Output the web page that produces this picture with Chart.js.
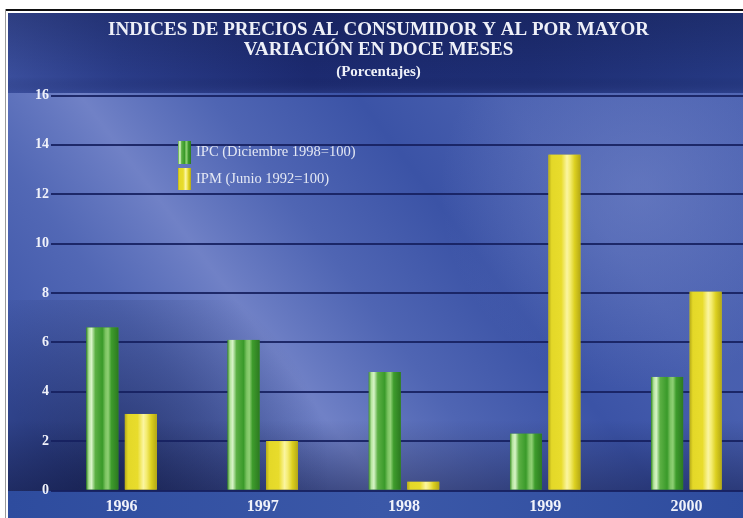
<!DOCTYPE html>
<html lang="es">
<head>
<meta charset="utf-8">
<title>Índices de precios al consumidor y al por mayor</title>
<script src="https://cdn.jsdelivr.net/npm/chart.js@4.4.0/dist/chart.umd.min.js"></script>
<style>
  html, body { margin: 0; padding: 0; background: #fff; overflow: hidden; }
  /* el lienzo es un poco más ancho que la ventana: la última categoría queda cortada como en el original */
  #contenedor { width: 743px; height: 518px; overflow: hidden; }
</style>
</head>
<body>
<div id="contenedor"><canvas id="grafico" width="757" height="518"></canvas></div>
<script>
// Datos (variación en doce meses, %)
const anios = ['1996', '1997', '1998', '1999', '2000'];
const valoresIPC = [6.6, 6.1, 4.8, 2.3, 4.6];
const valoresIPM = [3.1, 2.0, 0.35, 13.6, 8.05];
const ticksY = [0, 2, 4, 6, 8, 10, 12, 14, 16];

const etiquetaIPC = 'IPC (Diciembre 1998=100)';
const etiquetaIPM = 'IPM (Junio 1992=100)';

// Colores de las barras (degradado horizontal, efecto cilindro)
const paradasVerde = [
    [0, '#3f8f2c'], [0.08, '#b4e49c'], [0.16, '#d8f4c8'], [0.28, '#5cb044'],
    [0.5, '#3a9a2a'], [0.6, '#7cc462'], [0.68, '#8fd074'], [0.78, '#3e9c2c'], [1, '#2c7a20']
];
const paradasAmarillo = [
    [0, '#b8ac18'], [0.1, '#e4d828'], [0.4, '#e8dc2c'], [0.58, '#fbf5a0'],
    [0.68, '#f4ec70'], [0.82, '#dcd020'], [1, '#b4a814']
];

// Fondo azul con franja clara y banda del título
const pluginFondo = {
    id: 'fondo',
    beforeDraw(chart) {
        const ctx = chart.ctx;
        const w = chart.width, h = chart.height;
        ctx.save();
        ctx.fillStyle = '#ffffff';
        ctx.fillRect(0, 0, w, h);

        // marco del recorte
        ctx.fillStyle = '#111111';
        ctx.fillRect(5, 9, w - 5, 2);
        ctx.fillStyle = '#9a9a9a';
        ctx.fillRect(5, 9, 1, h - 9);

        // base azul
        ctx.fillStyle = '#3b53a6';
        ctx.fillRect(8, 13, w - 8, h - 13);

        // franja diagonal clara
        let g = ctx.createLinearGradient(60, 470, 520, 120);
        g.addColorStop(0, 'rgba(150,165,225,0)');
        g.addColorStop(0.25, 'rgba(150,165,225,0.25)');
        g.addColorStop(0.42, 'rgba(165,175,230,0.5)');
        g.addColorStop(0.6, 'rgba(150,165,225,0.22)');
        g.addColorStop(0.8, 'rgba(150,165,225,0)');
        g.addColorStop(1, 'rgba(150,165,225,0.15)');
        ctx.fillStyle = g;
        ctx.fillRect(8, 92, w - 8, 400);

        // zona clara a la derecha arriba
        g = ctx.createRadialGradient(640, 190, 10, 640, 190, 200);
        g.addColorStop(0, 'rgba(140,155,215,0.35)');
        g.addColorStop(1, 'rgba(140,155,215,0)');
        ctx.fillStyle = g;
        ctx.fillRect(8, 92, w - 8, 400);

        // sombra inferior
        g = ctx.createLinearGradient(0, 420, 0, 491);
        g.addColorStop(0, 'rgba(15,20,60,0)');
        g.addColorStop(1, 'rgba(15,20,60,0.45)');
        ctx.fillStyle = g;
        ctx.fillRect(8, 420, w - 8, 71);
        g = ctx.createRadialGradient(110, 480, 10, 110, 480, 220);
        g.addColorStop(0, 'rgba(10,15,50,0.5)');
        g.addColorStop(1, 'rgba(10,15,50,0)');
        ctx.fillStyle = g;
        ctx.fillRect(8, 300, 400, 191);

        // banda del título
        g = ctx.createLinearGradient(8, 0, w, 0);
        g.addColorStop(0, '#3a4e9c');
        g.addColorStop(0.15, '#2a3c88');
        g.addColorStop(0.4, '#1c2a70');
        g.addColorStop(0.7, '#1e2e74');
        g.addColorStop(1, '#263a84');
        ctx.fillStyle = g;
        ctx.fillRect(8, 13, w - 8, 80);
        g = ctx.createLinearGradient(0, 13, 0, 93);
        g.addColorStop(0, 'rgba(10,15,50,0.25)');
        g.addColorStop(0.8, 'rgba(10,15,50,0)');
        g.addColorStop(1, 'rgba(60,80,160,0.3)');
        ctx.fillStyle = g;
        ctx.fillRect(8, 13, w - 8, 80);

        // banda del eje x
        g = ctx.createLinearGradient(8, 0, w, 0);
        g.addColorStop(0, '#2e4c9e');
        g.addColorStop(0.5, '#3b58a8');
        g.addColorStop(1, '#2e4c9e');
        ctx.fillStyle = g;
        ctx.fillRect(8, 491, w - 8, h - 491);
        ctx.restore();
    }
};

// Repinta cada barra con su degradado usando la geometría de Chart.js
const pluginBrillo = {
    id: 'brillo',
    afterDatasetsDraw(chart) {
        const ctx = chart.ctx;
        chart.data.datasets.forEach((ds, i) => {
            const meta = chart.getDatasetMeta(i);
            const paradas = i === 0 ? paradasVerde : paradasAmarillo;
            meta.data.forEach((barra) => {
                const x0 = barra.x - barra.width / 2;
                const x1 = barra.x + barra.width / 2;
                const g = ctx.createLinearGradient(x0, 0, x1, 0);
                paradas.forEach(([pos, color]) => g.addColorStop(pos, color));
                ctx.save();
                ctx.fillStyle = g;
                ctx.fillRect(x0, barra.y, barra.width, barra.base - barra.y);
                ctx.restore();
            });
        });
    }
};

// Leyenda dentro del área del gráfico
const pluginLeyenda = {
    id: 'leyendaInterna',
    afterDraw(chart) {
        const ctx = chart.ctx;
        const filas = [
            { y: 141, alto: 23, paradas: paradasVerde },
            { y: 168, alto: 22, paradas: paradasAmarillo }
        ];
        ctx.save();
        ctx.font = '14.5px "Liberation Serif", serif';
        ctx.textBaseline = 'middle';
        chart.data.datasets.forEach((ds, i) => {
            const f = filas[i];
            const g = ctx.createLinearGradient(178, 0, 191, 0);
            f.paradas.forEach(([pos, color]) => g.addColorStop(pos, color));
            ctx.fillStyle = g;
            ctx.fillRect(178, f.y, 13, f.alto);
            ctx.fillStyle = '#e4e8f4';
            ctx.fillText(ds.label, 196, f.y + f.alto / 2);
        });
        ctx.restore();
    }
};

const ctx = document.getElementById('grafico').getContext('2d');
const grafico = new Chart(ctx, {
    type: 'bar',
    data: {
        labels: anios,
        datasets: [
            { label: etiquetaIPC, data: valoresIPC, backgroundColor: '#3a9a2a', borderWidth: 0 },
            { label: etiquetaIPM, data: valoresIPM, backgroundColor: '#e0d420', borderWidth: 0 }
        ]
    },
    options: {
        responsive: false,
        devicePixelRatio: 1,
        animation: false,
        layout: { padding: { left: 0, right: 0, top: 0, bottom: 0 } },
        datasets: {
            bar: { categoryPercentage: 0.545, barPercentage: 0.83 }
        },
        plugins: {
            legend: { display: false },
            tooltip: { enabled: false },
            title: {
                display: true,
                text: ['INDICES DE PRECIOS AL CONSUMIDOR Y AL POR MAYOR', 'VARIACIÓN EN DOCE MESES'],
                color: '#eef0f8',
                font: { family: '"Liberation Serif", serif', size: 19, weight: 'bold', lineHeight: 1.05 },
                padding: { top: 20, bottom: 2 }
            },
            subtitle: {
                display: true,
                text: '(Porcentajes)',
                color: '#eef0f8',
                font: { family: '"Liberation Serif", serif', size: 15, weight: 'bold', lineHeight: 1.1 },
                padding: { top: 1.8, bottom: 15.3 }
            }
        },
        scales: {
            x: {
                grid: { display: false, drawTicks: false },
                border: { display: false },
                ticks: {
                    color: '#f0f2fa',
                    padding: 7,
                    font: { family: '"Liberation Serif", serif', size: 16, weight: 'bold' }
                },
                afterFit(escala) { escala.height = 27.5; }
            },
            y: {
                min: 0,
                max: 16,
                afterBuildTicks(escala) { escala.ticks = ticksY.map(v => ({ value: v })); },
                grid: { color: 'rgba(22,32,95,0.9)', lineWidth: 2, drawTicks: false },
                border: { display: false },
                ticks: {
                    color: '#f0f2fa',
                    padding: 2,
                    font: { family: '"Liberation Serif", serif', size: 14, weight: 'bold' }
                },
                afterFit(escala) { escala.width = 51; }
            }
        }
    },
    plugins: [pluginFondo, pluginBrillo, pluginLeyenda]
});
</script>
</body>
</html>
